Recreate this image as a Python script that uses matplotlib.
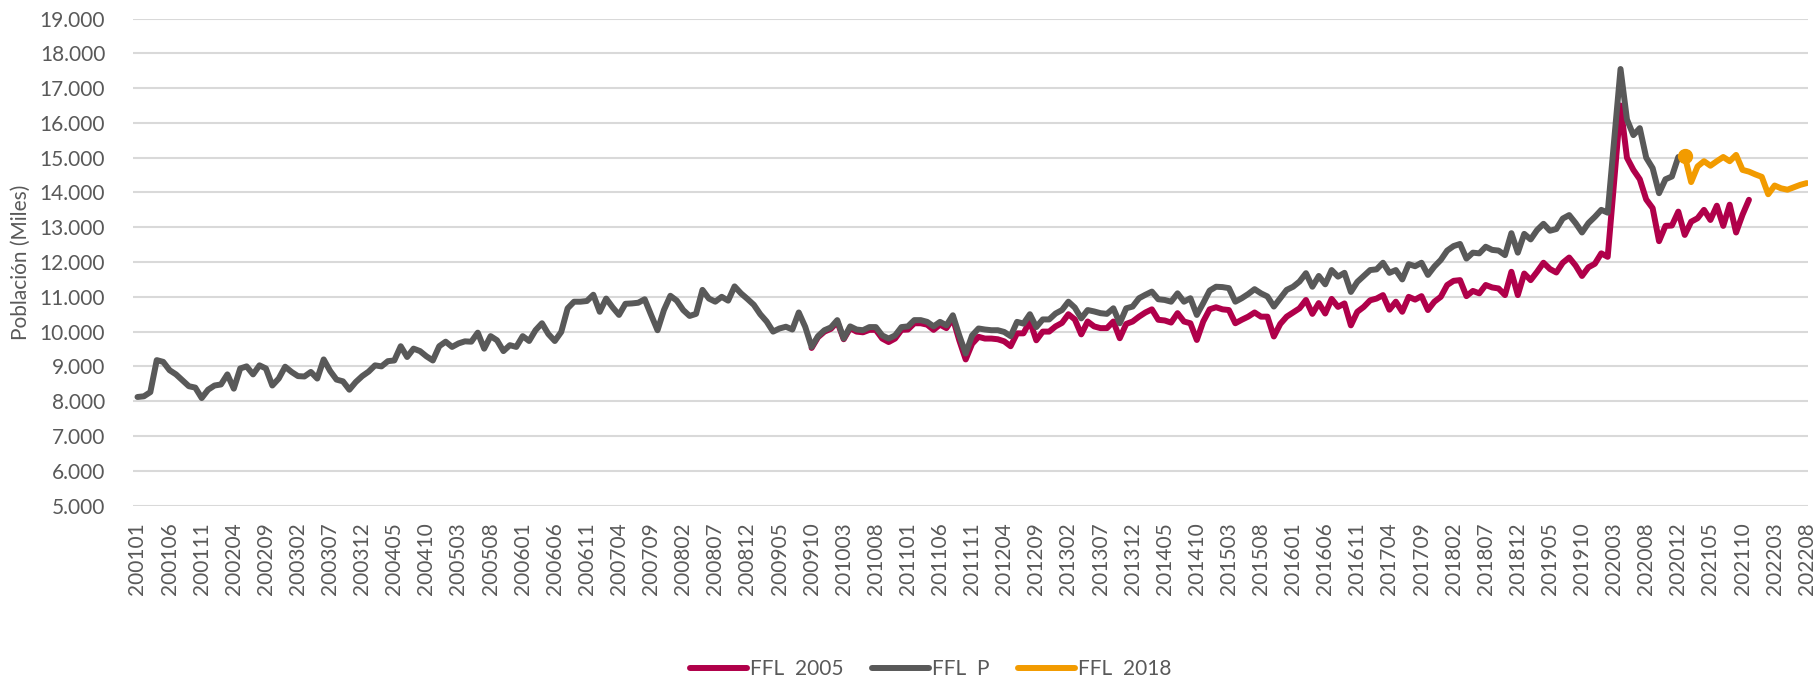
import matplotlib
matplotlib.use('Agg')
import matplotlib.pyplot as plt
from matplotlib.ticker import FuncFormatter

plt.rcParams['font.family'] = ['Lato', 'DejaVu Sans']

# Categorias mensuales (202012 aparece dos veces: cambio de base)
categories = ([f"{y}{m:02d}" for y in range(2001, 2021) for m in range(1, 13)]
              + ["202012"]
              + [f"{y}{m:02d}" for y in (2021, 2022) for m in range(1, 13)
                 if not (y == 2022 and m > 8)])

# FFL P (miles de miles), desde 200101
ffl_p = [
    8.12, 8.14, 8.26, 9.18, 9.13, 8.89, 8.77, 8.60, 8.43, 8.39,
    8.09, 8.33, 8.45, 8.48, 8.77, 8.36, 8.94, 9.00, 8.77, 9.03,
    8.94, 8.45, 8.65, 8.99, 8.84, 8.72, 8.71, 8.84, 8.65, 9.20,
    8.87, 8.62, 8.57, 8.33, 8.55, 8.72, 8.85, 9.03, 9.00, 9.15,
    9.17, 9.58, 9.27, 9.51, 9.44, 9.29, 9.17, 9.58, 9.71, 9.56,
    9.66, 9.72, 9.71, 9.97, 9.51, 9.87, 9.75, 9.44, 9.61, 9.56,
    9.87, 9.73, 10.04, 10.24, 9.93, 9.73, 9.99, 10.67, 10.86, 10.86,
    10.88, 11.06, 10.57, 10.95, 10.70, 10.48, 10.80, 10.81, 10.83, 10.93,
    10.48, 10.04, 10.62, 11.03, 10.89, 10.62, 10.45, 10.51, 11.20, 10.95,
    10.86, 11.00, 10.89, 11.30, 11.10, 10.94, 10.77, 10.50, 10.29, 10.00,
    10.09, 10.14, 10.06, 10.55, 10.14, 9.56, 9.87, 10.04, 10.12, 10.33,
    9.80, 10.15, 10.06, 10.04, 10.13, 10.13, 9.89, 9.80, 9.89, 10.13,
    10.15, 10.33, 10.33, 10.28, 10.15, 10.28, 10.18, 10.47, 9.89, 9.37,
    9.89, 10.09, 10.06, 10.04, 10.04, 9.99, 9.87, 10.28, 10.23, 10.50,
    10.13, 10.35, 10.35, 10.52, 10.62, 10.86, 10.69, 10.38, 10.62, 10.58,
    10.53, 10.51, 10.67, 10.24, 10.67, 10.72, 10.96, 11.06, 11.15, 10.93,
    10.91, 10.86, 11.10, 10.86, 10.96, 10.48, 10.82, 11.18, 11.29, 11.28,
    11.25, 10.86, 10.96, 11.08, 11.22, 11.10, 11.01, 10.72, 10.96, 11.20,
    11.29, 11.44, 11.68, 11.29, 11.60, 11.36, 11.77, 11.58, 11.69, 11.14,
    11.43, 11.60, 11.77, 11.79, 11.98, 11.69, 11.77, 11.50, 11.94, 11.88,
    11.98, 11.63, 11.87, 12.06, 12.33, 12.46, 12.52, 12.10, 12.27, 12.25,
    12.44, 12.35, 12.33, 12.20, 12.83, 12.27, 12.81, 12.65, 12.92, 13.10,
    12.90, 12.95, 13.25, 13.35, 13.12, 12.85, 13.12, 13.30, 13.50, 13.42,
    15.50, 17.55, 16.10, 15.65, 15.85, 15.00, 14.70, 13.98, 14.38, 14.46,
    15.02,
]

# FFL 2005, desde 200910
start_2005 = 105
ffl_2005 = [
    9.53, 9.84, 10.00, 10.08, 10.28,
    9.78, 10.10, 10.00, 9.98, 10.05, 10.05, 9.80, 9.70, 9.80, 10.05,
    10.06, 10.24, 10.24, 10.20, 10.05, 10.20, 10.10, 10.38, 9.75, 9.20,
    9.65, 9.85, 9.80, 9.80, 9.78, 9.72, 9.58, 9.95, 9.95, 10.30,
    9.75, 10.00, 10.00, 10.15, 10.25, 10.50, 10.35, 9.92, 10.29, 10.15,
    10.10, 10.10, 10.29, 9.81, 10.22, 10.29, 10.43, 10.55, 10.64, 10.34,
    10.32, 10.26, 10.53, 10.29, 10.24, 9.76, 10.29, 10.64, 10.70, 10.64,
    10.62, 10.24, 10.34, 10.43, 10.55, 10.43, 10.43, 9.86, 10.22, 10.43,
    10.55, 10.67, 10.91, 10.51, 10.82, 10.52, 10.94, 10.71, 10.81, 10.18,
    10.57, 10.71, 10.90, 10.95, 11.05, 10.63, 10.86, 10.57, 11.00, 10.92,
    11.02, 10.62, 10.86, 11.00, 11.34, 11.46, 11.48, 11.02, 11.17, 11.10,
    11.34, 11.27, 11.24, 11.05, 11.72, 11.05, 11.67, 11.48, 11.72, 11.98,
    11.80, 11.70, 11.98, 12.13, 11.90, 11.60, 11.85, 11.95, 12.25, 12.15,
    14.30, 16.50, 15.00, 14.65, 14.38, 13.80, 13.55, 12.60, 13.04, 13.05,
    13.45, 12.78, 13.16, 13.26, 13.50, 13.21, 13.62, 13.04, 13.65, 12.85,
    13.36, 13.79,
]

# FFL 2018, desde 202101
start_2018 = 241
ffl_2018 = [
    15.05, 14.30, 14.75, 14.90, 14.77, 14.90, 15.02, 14.90, 15.08, 14.65,
    14.60, 14.52, 14.45, 13.95, 14.20, 14.12, 14.08, 14.15, 14.22, 14.27,
]

C_2005 = '#b0004a'
C_P = '#595959'
C_2018 = '#f29b00'
TXT = '#595959'

fig = plt.figure(figsize=(18.18, 6.8), dpi=100)
ax = fig.add_axes([133 / 1818, 1 - 505.5 / 680, (1808 - 133) / 1818, (505.5 - 18.6) / 680])

lw = 4.3
ax.plot(range(start_2005, start_2005 + len(ffl_2005)), ffl_2005, color=C_2005, lw=lw,
        solid_joinstyle='round', solid_capstyle='round', label='FFL  2005')
ax.plot(range(len(ffl_p)), ffl_p, color=C_P, lw=lw,
        solid_joinstyle='round', solid_capstyle='round', label='FFL  P')
ax.plot(range(start_2018, start_2018 + len(ffl_2018)), ffl_2018, color=C_2018, lw=lw,
        solid_joinstyle='round', solid_capstyle='round', label='FFL  2018')
ax.plot([start_2018], [ffl_2018[0]], 'o', color=C_2018, ms=10)

ax.set_xlim(-0.7, len(categories) - 0.8)
ax.set_ylim(5, 19)
ax.set_yticks(range(5, 20))
ax.yaxis.set_major_formatter(FuncFormatter(lambda v, p: f"{int(round(v))}.000"))
ax.set_xticks(range(0, len(categories), 5))
ax.set_xticklabels(categories[::5], rotation=90)
ax.tick_params(length=0, colors=TXT, labelsize=15)
ax.tick_params(axis='y', pad=20)
ax.tick_params(axis='x', pad=12)
ax.grid(axis='y', color='#d9d9d9', lw=1.5)
ax.set_axisbelow(True)
for s in ax.spines.values():
    s.set_visible(False)

ax.set_ylabel('Población (Miles)', color=TXT, fontsize=15)
ax.yaxis.set_label_coords(-0.061, 0.5)

leg = fig.legend(loc='center', bbox_to_anchor=(0.512, 1 - 669 / 680), ncol=3,
                 frameon=False, fontsize=15, handlelength=2.7, handletextpad=0.15,
                 columnspacing=1.4)
for t in leg.get_texts():
    t.set_color(TXT)

fig.savefig('out.png', dpi=100)
